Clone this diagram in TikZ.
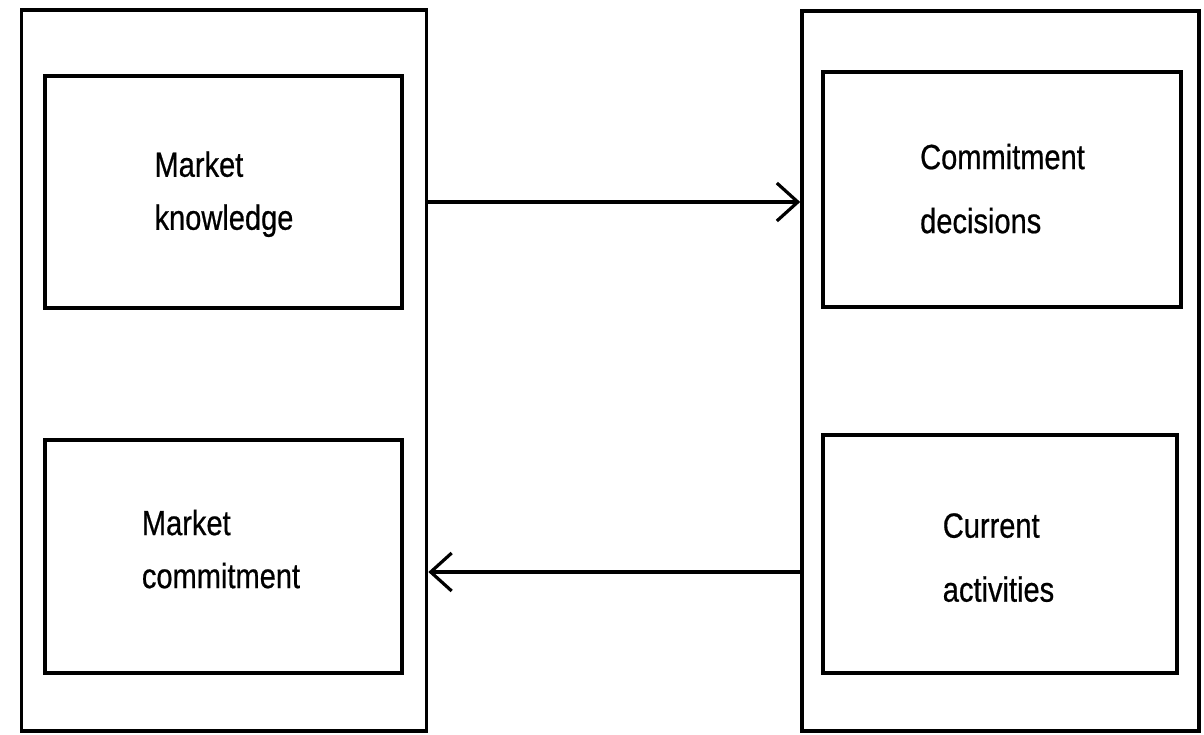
\documentclass[tikz,border=0pt]{standalone}
\usepackage{fontspec}
\newfontfamily\lab[FakeStretch=0.83,FakeBold=0.6]{Liberation Sans}
\usetikzlibrary{arrows.meta}
\begin{document}
\begin{tikzpicture}[x=1pt,y=-1pt,
  frame/.style={draw=black,line width=3.6pt,rectangle,inner sep=0pt},
  label/.style={align=left,inner sep=0pt,font={\lab\fontsize{35}{53}\selectfont}},
  labelwide/.style={label,font={\lab\fontsize{35}{64}\selectfont}},
  flow/.style={line width=3.6pt,-{Straight Barb[length=21pt,width=38pt,line width=3.2pt]}}]
\useasboundingbox (0,0) rectangle (1204,734);
% two outer panels
\node[frame,minimum width=405pt,minimum height=721pt] (L) at (224,370.5) {};
\node[frame,minimum width=397pt,minimum height=720pt] (R) at (1000.5,371) {};
% inner boxes
\node[frame,minimum width=357pt,minimum height=232pt] (knowbox) at (223.5,192) {};
\node[frame,minimum width=357pt,minimum height=233pt] (commitbox) at (223.5,556.5) {};
\node[frame,minimum width=358pt,minimum height=235pt] (decbox) at (1002,189.5) {};
\node[frame,minimum width=354pt,minimum height=238pt] (actbox) at (1000,554) {};
% labels
\node[label] (know) at (224,194.2) {Market\\knowledge};
\node[label] (commit) at (221,549.1) {Market\\commitment};
\node[labelwide] (dec) at (1002.5,188.6) {Commitment\\decisions};
\node[labelwide] (act) at (998.5,557.6) {Current\\activities};
% connectors between the panels
\coordinate (upper) at (0,202);
\coordinate (lower) at (0,572);
\draw[flow] (L.east |- upper) -- (R.west |- upper);
\draw[flow] (R.west |- lower) -- (L.east |- lower);
\end{tikzpicture}
\end{document}
